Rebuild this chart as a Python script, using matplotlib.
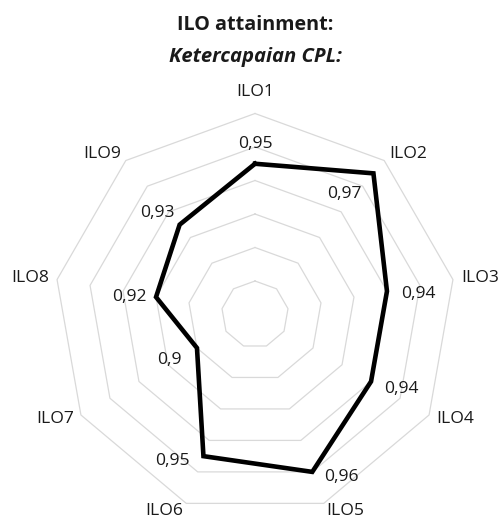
import numpy as np
import matplotlib
matplotlib.use("Agg")
import matplotlib.pyplot as plt

plt.rcParams["font.family"] = ["Open Sans", "DejaVu Sans"]

# ILO attainment per learning outcome
categories = ["ILO1", "ILO2", "ILO3", "ILO4", "ILO5", "ILO6", "ILO7", "ILO8", "ILO9"]
values = [0.95, 0.97, 0.94, 0.94, 0.96, 0.95, 0.90, 0.92, 0.93]
r_min, r_max = 0.86, 0.98
r_levels = [0.88, 0.90, 0.92, 0.94, 0.96, 0.98]

# data label placement relative to each point (pixels, x right / y down)
LABEL_OFFSETS = [(0, -20), (-29, 21), (31, 3), (30, 8), (29, 5),
                 (-31, 5), (-28, 12), (-27, 0), (-22, -12)]

GRID = "#d9d9d9"
TEXT = "#1a1a1a"
W, H = 498, 519
CX, CY, R = 255, 314.5, 201  # plot centre and radius in pixels


def main():
    fig = plt.figure(figsize=(W / 100, H / 100), dpi=100)
    ax = fig.add_axes([(CX - R) / W, (H - CY - R) / H, 2 * R / W, 2 * R / H],
                      projection="polar")
    ax.set_theta_zero_location("N")
    ax.set_theta_direction(-1)
    ax.set_ylim(r_min, r_max)
    ax.grid(False)
    ax.spines["polar"].set_visible(False)
    ax.set_xticks([])
    ax.set_yticks([])
    ax.patch.set_alpha(0)

    n = len(categories)
    theta = np.arange(n) * 2 * np.pi / n
    theta_c = np.append(theta, theta[0])

    # polygon gridlines
    for lvl in r_levels:
        ax.plot(theta_c, [lvl] * (n + 1), color=GRID, lw=0.9, zorder=1, clip_on=False)

    vals_c = np.append(values, values[0])
    ax.plot(theta_c, vals_c, color="black", lw=3.3, solid_joinstyle="miter",
            zorder=3, clip_on=False)

    # category labels just outside the outer ring
    for t, name in zip(theta, categories):
        s, c = np.sin(t), np.cos(t)
        if abs(s) < 0.05:
            ha, off = "center", (0, 22 * c)
        else:
            ha = "left" if s > 0 else "right"
            off = (8 * s, 8 * c)
        ax.annotate(name, xy=(t, r_max), xytext=off, textcoords="offset pixels",
                    ha=ha, va="center", fontsize=12.6, color=TEXT,
                    annotation_clip=False)

    # value labels
    for t, v, (dx, dy) in zip(theta, values, LABEL_OFFSETS):
        ax.annotate(f"{v:g}".replace(".", ","), xy=(t, v), xytext=(dx, -dy),
                    textcoords="offset pixels", ha="center", va="center",
                    fontsize=12.6, color=TEXT, annotation_clip=False)

    fig.text(255.5 / W, 1 - 25 / H, "ILO attainment:", ha="center", va="center",
             fontsize=14.2, fontweight="bold", color=TEXT)
    fig.text(255.5 / W, 1 - 57 / H, "Ketercapaian CPL:", ha="center", va="center",
             fontsize=14.6, fontweight="bold", fontstyle="italic", color=TEXT)

    fig.savefig("out.png", dpi=100, facecolor="white")
    plt.close(fig)


if __name__ == "__main__":
    main()
